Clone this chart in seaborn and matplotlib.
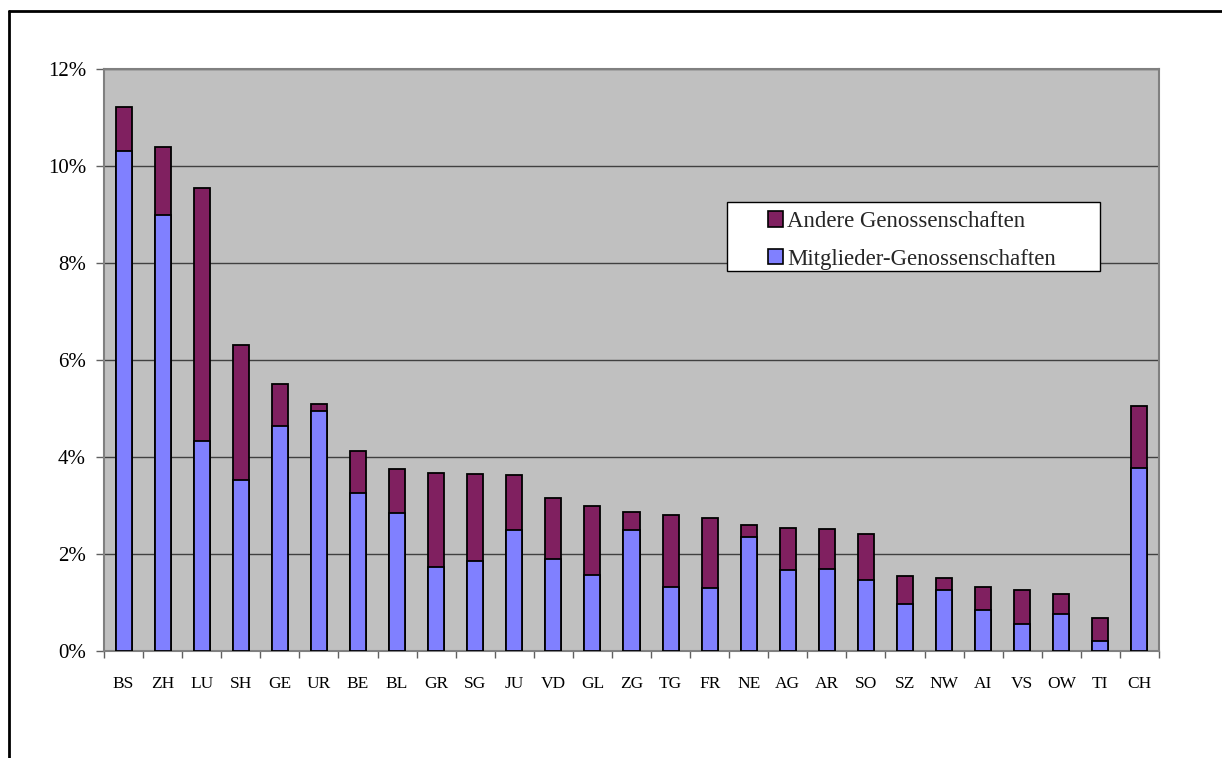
import matplotlib
matplotlib.use("Agg")
import matplotlib.pyplot as plt
from matplotlib.patches import Patch, Rectangle
from matplotlib.lines import Line2D
from matplotlib.ticker import FixedLocator, PercentFormatter
import numpy as np
import pandas as pd
import seaborn as sns

# Anteil der Wohnungen im Besitz von Genossenschaften, nach Kanton (in %)
kantone = ["BS", "ZH", "LU", "SH", "GE", "UR", "BE", "BL", "GR", "SG", "JU", "VD", "GL",
           "ZG", "TG", "FR", "NE", "AG", "AR", "SO", "SZ", "NW", "AI", "VS", "OW", "TI", "CH"]
mitglieder = [10.31, 8.98, 4.32, 3.53, 4.63, 4.95, 3.26, 2.85, 1.74, 1.86, 2.49, 1.90, 1.57,
              2.49, 1.31, 1.30, 2.36, 1.66, 1.70, 1.46, 0.97, 1.26, 0.85, 0.55, 0.76, 0.21, 3.77]
andere = [0.90, 1.41, 5.23, 2.77, 0.88, 0.14, 0.86, 0.90, 1.92, 1.79, 1.13, 1.26, 1.41,
          0.38, 1.49, 1.44, 0.24, 0.87, 0.82, 0.95, 0.58, 0.24, 0.47, 0.71, 0.41, 0.48, 1.29]
y_ticks = [0, 2, 4, 6, 8, 10, 12]

df = pd.DataFrame({"Kanton": kantone, "Mitglieder": mitglieder, "Andere": andere})
df["Total"] = df["Mitglieder"] + df["Andere"]

farbe_mitglieder = "#8080FF"
farbe_andere = "#802060"

sns.set_theme(style="white")
plt.rcParams["font.family"] = ["Liberation Serif", "DejaVu Serif"]

W, H = 1222, 758
fig = plt.figure(figsize=(W / 100, H / 100), dpi=100)
ax = fig.add_axes([104 / W, 107 / H, 1055 / W, 582 / H])
ax.set_facecolor("#C0C0C0")

# Stacked bars: the total in the "Andere" colour, the member share drawn over it
sns.barplot(data=df, x="Kanton", y="Total", order=kantone, color=farbe_andere,
            saturation=1, width=0.41, edgecolor="black", linewidth=1.3, ax=ax, zorder=3)
sns.barplot(data=df, x="Kanton", y="Mitglieder", order=kantone, color=farbe_mitglieder,
            saturation=1, width=0.41, edgecolor="black", linewidth=1.3, ax=ax, zorder=4)

ax.set_xlim(-0.5, len(kantone) - 0.5)
ax.set_ylim(0, 12)
ax.set_yticks(y_ticks)
ax.yaxis.set_major_formatter(PercentFormatter(decimals=0))
ax.yaxis.grid(True, color="#404040", linewidth=1.0, zorder=1)
ax.set_axisbelow(True)

ax.set_xlabel("")
ax.set_ylabel("")
ax.xaxis.set_minor_locator(FixedLocator(np.arange(-0.5, len(kantone), 1.0)))
ax.tick_params(axis="x", which="major", length=0, pad=18, labelsize=12.5, colors="black")
ax.tick_params(axis="x", which="minor", length=5, width=1, color="#606060", direction="out",
               bottom=True)
ax.tick_params(axis="y", which="major", length=6, width=1, color="#606060", direction="out",
               left=True, pad=7, labelsize=15, labelcolor="black")

for spine in ax.spines.values():
    spine.set_visible(True)
    spine.set_color("#808080")
    spine.set_linewidth(1.5)


def px_to_axes(x, y):
    return (x - 104) / 1055, (651 - y) / 582


# Legend box
x0, y0 = px_to_axes(727, 271)
x1, y1 = px_to_axes(1100, 202)
ax.add_patch(Rectangle((x0, y0), x1 - x0, y1 - y0, transform=ax.transAxes,
                       facecolor="white", edgecolor="black", linewidth=1.0, zorder=9,
                       clip_on=False))

handles = [Patch(facecolor=farbe_andere, edgecolor="black", linewidth=1.2),
           Patch(facecolor=farbe_mitglieder, edgecolor="black", linewidth=1.2)]
leg = ax.legend(handles, ["Andere Genossenschaften", "Mitglieder-Genossenschaften"],
                loc="upper left", bbox_to_anchor=px_to_axes(768, 211),
                fontsize=16.5, frameon=False,
                handlelength=0.65, handleheight=0.65, handletextpad=0.2,
                borderpad=0, labelspacing=0.72, borderaxespad=0)
leg.set_zorder(10)

# Outer chart frame (top and left edges inside the image)
fig.add_artist(Line2D([9 / W, 9 / W], [0, 1 - 11 / H], transform=fig.transFigure,
                      color="black", linewidth=2))
fig.add_artist(Line2D([9 / W, 1], [1 - 11 / H, 1 - 11 / H], transform=fig.transFigure,
                      color="black", linewidth=2))

fig.savefig("out.png", dpi=100, facecolor="white")
